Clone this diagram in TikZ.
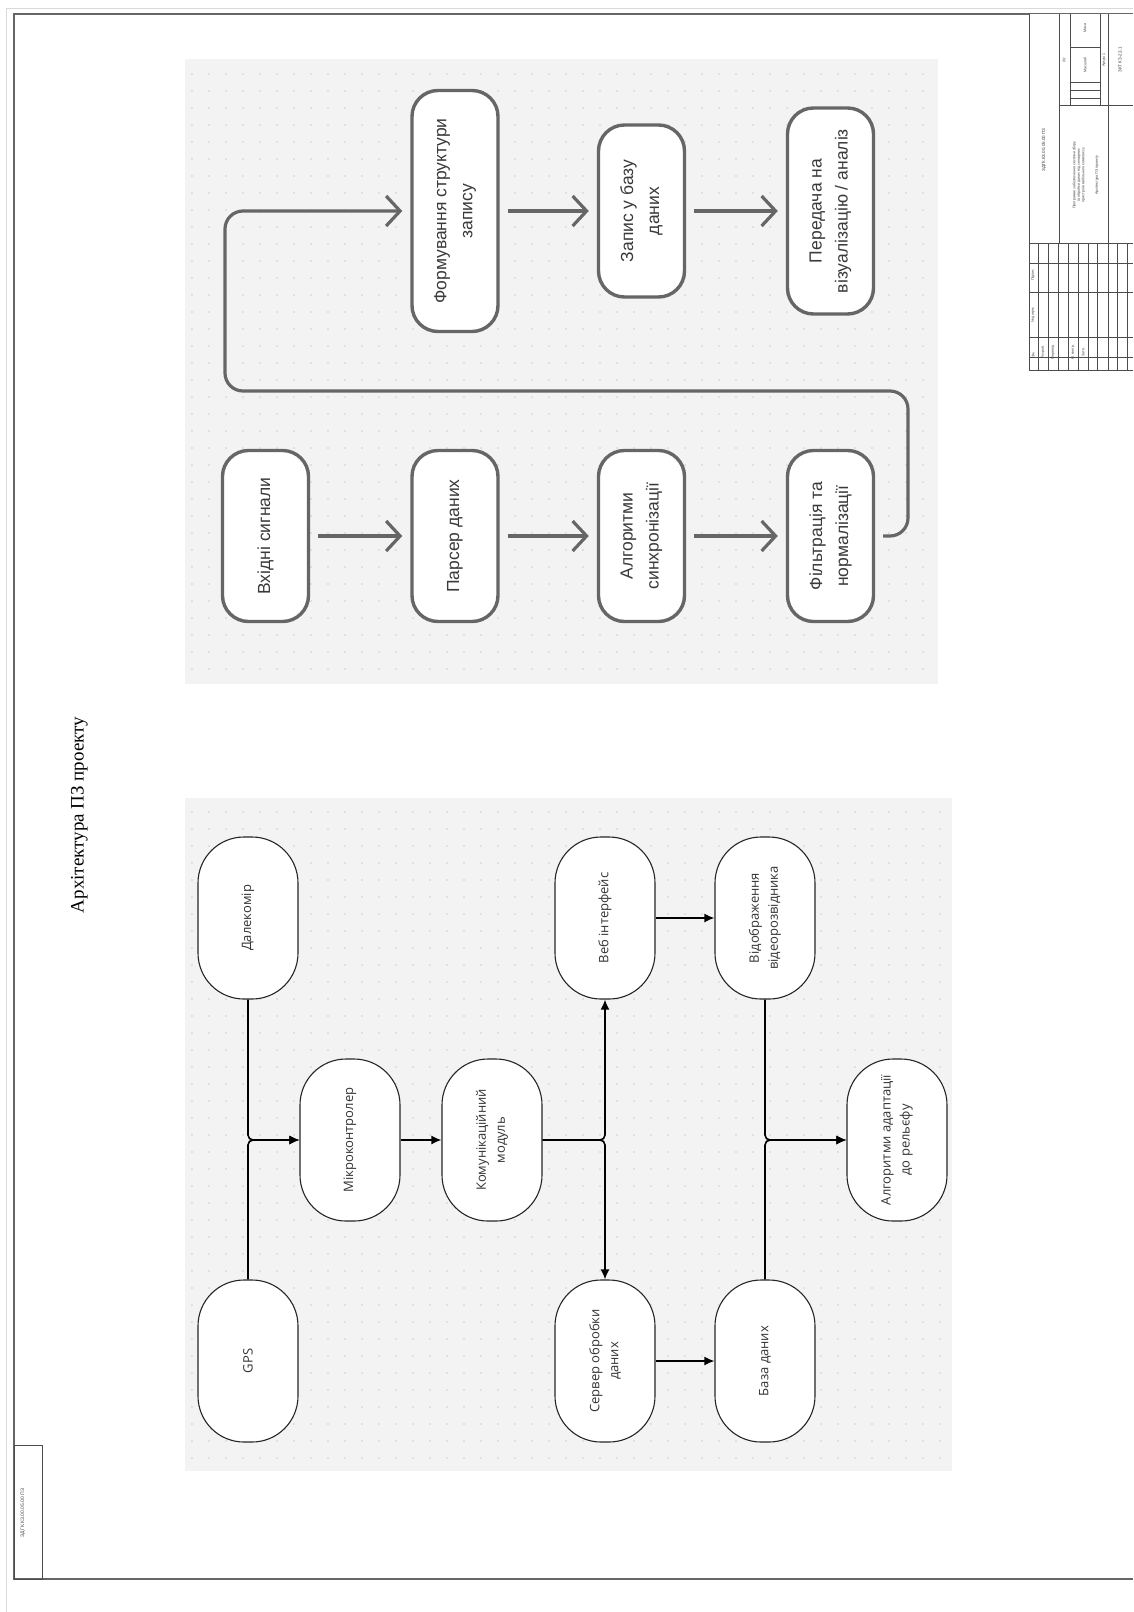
\documentclass[tikz,border=0pt]{standalone}
\usepackage{fontspec}
\setmainfont{Liberation Serif}
\newfontfamily\arialf{Liberation Sans}
\newfontfamily\segf{Open Sans}
\usetikzlibrary{arrows.meta}
\definecolor{bgpanel}{HTML}{F3F3F3}
\definecolor{dotc}{HTML}{CDCDCD}
\definecolor{gline}{HTML}{666666}
\definecolor{txtone}{HTML}{3A3A3A}
\tikzset{
  boxone/.style={draw=gline, line width=3.4pt, fill=white, rounded corners=26pt, minimum width=86pt, inner sep=0pt},
  tone/.style={rotate=90, align=center, font=\arialf\fontsize{17.5}{26}\selectfont, text=txtone},
  arrone/.style={draw=gline, line width=3.2pt, -{Straight Barb[length=14pt,width=30pt]}, shorten >=8pt, shorten <=8pt},
  boxtwo/.style={draw=black!85, line width=1.1pt, fill=white, rounded corners=46pt, minimum width=100pt, minimum height=162pt, inner sep=0pt},
  ttwo/.style={rotate=90, align=center, font=\segf\fontsize{13}{19}\selectfont, text=black!80},
  arrtwo/.style={draw=black, line width=1.6pt, -{Latex[length=10pt,width=9pt]}},
  stamp/.style={draw=black!70, line width=0.7pt},
  stxt/.style={rotate=90, font=\arialf\fontsize{3.6}{4.5}\selectfont, text=black!75, inner sep=0pt, align=center}
}
\begin{document}
\begin{tikzpicture}[x=1pt,y=1pt]
\useasboundingbox (0,0) rectangle (1133,-1612);
\fill[white] (0,0) rectangle (1133,-1612);
% outer frame
\draw[black!15, line width=0.8pt] (1133,-8) -- (6,-8) -- (6,-1612);
\draw[black!60, line width=1.6pt] (1133,-14) -- (14,-14) -- (14,-1579) -- (1133,-1579);

% panels
\fill[bgpanel] (185,-59) rectangle (938,-684);
\fill[bgpanel] (185,-798) rectangle (952,-1471);
\foreach \x in {192,209,...,935} \foreach \y in {74,91,...,680} \fill[dotc] (\x,-\y) circle (0.9);
\foreach \x in {192,209,...,948} \foreach \y in {812,829,...,1468} \fill[dotc] (\x,-\y) circle (0.9);

% title
\node[rotate=90, font=\fontsize{19}{22}\selectfont] (title) at (79.5,-815) {Архітектура ПЗ проекту};

% ---------- panel 1 ----------
\node[boxone, minimum height=171pt, label={[tone,name=vxt]center:Вхідні сигнали}] (vx) at (265.5,-536) {};
\node[boxone, minimum height=171pt, label={[tone,name=parst]center:Парсер даних}] (pars) at (455,-536) {};
\node[boxone, minimum height=171pt, label={[tone,name=algt]center:{Алгоритми\\синхронізації}}] (alg) at (641.5,-536) {};
\node[boxone, minimum height=171pt, label={[tone,name=filtt]center:{Фільтрація та\\нормалізації}}] (filt) at (830.5,-536) {};
\node[boxone, minimum height=241pt, label={[tone,name=formt]center:{Формування структури\\запису}}] (form) at (455,-211) {};
\node[boxone, minimum height=172pt, label={[tone,name=zapt]center:{Запис у базу\\даних}}] (zap) at (641.5,-211) {};
\node[boxone, minimum height=206pt, label={[tone,name=peredt]center:{Передача на\\візуалізацію / аналіз}}] (pered) at (830.5,-211) {};

\draw[arrone] (vx) -- (pars);
\draw[arrone] (pars) -- (alg);
\draw[arrone] (alg) -- (filt);
\draw[arrone] (form) -- (zap);
\draw[arrone] (zap) -- (pered);
\coordinate (la) at (908,-536);
\coordinate (lb) at (908,-391);
\coordinate (lc) at (225,-391);
\coordinate (ld) at (225,-211);
\draw[arrone, rounded corners=18pt] (filt.east) -- (la) -- (lb) -- (lc) -- (ld) -- (form.west);

% ---------- panel 2 ----------
\node[boxtwo, label={[ttwo,name=dalt]center:Далекомір}] (dal) at (248,-918) {};
\node[boxtwo, label={[ttwo,name=gpst]center:GPS}] (gps) at (248,-1361) {};
\node[boxtwo, label={[ttwo,name=mcut]center:Мікроконтролер}] (mcu) at (350,-1140) {};
\node[boxtwo, label={[ttwo,name=commt]center:{Комунікаційний\\модуль}}] (comm) at (492,-1140) {};
\node[boxtwo, label={[ttwo,name=webt]center:Веб інтерфейс}] (web) at (605,-918) {};
\node[boxtwo, label={[ttwo,name=srvt]center:{Сервер обробки\\даних}}] (srv) at (605,-1361) {};
\node[boxtwo, label={[ttwo,name=vist]center:{Відображення\\відеорозвідника}}] (vis) at (765,-918) {};
\node[boxtwo, label={[ttwo,name=dbt]center:База даних}] (db) at (765,-1361) {};
\node[boxtwo, label={[ttwo,name=algot]center:{Алгоритми адаптації\\до рельєфу}}] (algo) at (897,-1140) {};

\draw[arrtwo, rounded corners=5pt] (dal.south) |- (mcu.west);
\draw[arrtwo, rounded corners=5pt] (gps.north) |- (mcu.west);
\draw[arrtwo] (mcu) -- (comm);
\draw[arrtwo, rounded corners=5pt] (comm.east) -| (web.south);
\draw[arrtwo, rounded corners=5pt] (comm.east) -| (srv.north);
\draw[arrtwo] (web) -- (vis);
\draw[arrtwo] (srv) -- (db);
\draw[arrtwo, rounded corners=5pt] (vis.south) |- (algo.west);
\draw[arrtwo, rounded corners=5pt] (db.north) |- (algo.west);

% ---------- corner box ----------
\draw[black!70, line width=1pt] (14,-1445) rectangle (42,-1579);
\node[rotate=90, font=\arialf\fontsize{5}{6}\selectfont, text=black!70] (cornt) at (23,-1513) {ЗДГК.КЗ.00.05.00 ПЗ};

% ---------- title block ----------
\fill[white] (1029,-14) rectangle (1133,-370);
\draw[stamp] (1029,-14) -- (1029,-370) -- (1133,-370);
\draw[stamp] (1059,-14) -- (1059,-243);
\draw[stamp] (1108,-14) -- (1108,-243);
\draw[stamp] (1029,-243) -- (1133,-243);
\draw[stamp] (1059,-105) -- (1133,-105);
\foreach \x in {1070,1100} \draw[stamp] (\x,-14) -- (\x,-105);
\foreach \y in {47,82,90,98} \draw[stamp] (1070,-\y) -- (1100,-\y);
\foreach \y in {263,292,337,357} \draw[stamp] (1029,-\y) -- (1133,-\y);
\foreach \x in {1038,1048,1058,1068,1078,1088,1097,1108,1117,1127} \draw[stamp] (\x,-243) -- (\x,-370);
\node[stxt, font=\arialf\fontsize{4.5}{5}\selectfont] (stA) at (1044,-150) {ЗДГК.КЗ.00.05.00 ПЗ};
\node[stxt] (stB) at (1079,-175) {Програмне забезпечення системи збору\\та обробки даних від сенсорних\\пристроїв мобільного комплексу};
\node[stxt] (stC) at (1097,-175) {Архітектура ПЗ проекту};
\node[stxt] (stD) at (1064,-60) {Літ.};
\node[stxt] (stE) at (1085,-28) {Маса};
\node[stxt] (stF) at (1085,-65) {Масштаб};
\node[stxt] (stG) at (1104,-60) {Аркуш 1};
\node[stxt, font=\arialf\fontsize{4.5}{5}\selectfont] (stH) at (1120,-60) {ЗКТ КЗ-22-1};
\node[stxt] (stI) at (1033,-355) {Зм.};
\node[stxt] (stJ) at (1033,-315) {№ докум.};
\node[stxt] (stK) at (1033,-275) {Підпис};
\node[stxt] (stL) at (1043,-352) {Розроб.};
\node[stxt] (stM) at (1053,-352) {Перевір.};
\node[stxt] (stN) at (1073,-352) {Н. контр.};
\node[stxt] (stO) at (1083,-352) {Затв.};
\end{tikzpicture}
\end{document}
